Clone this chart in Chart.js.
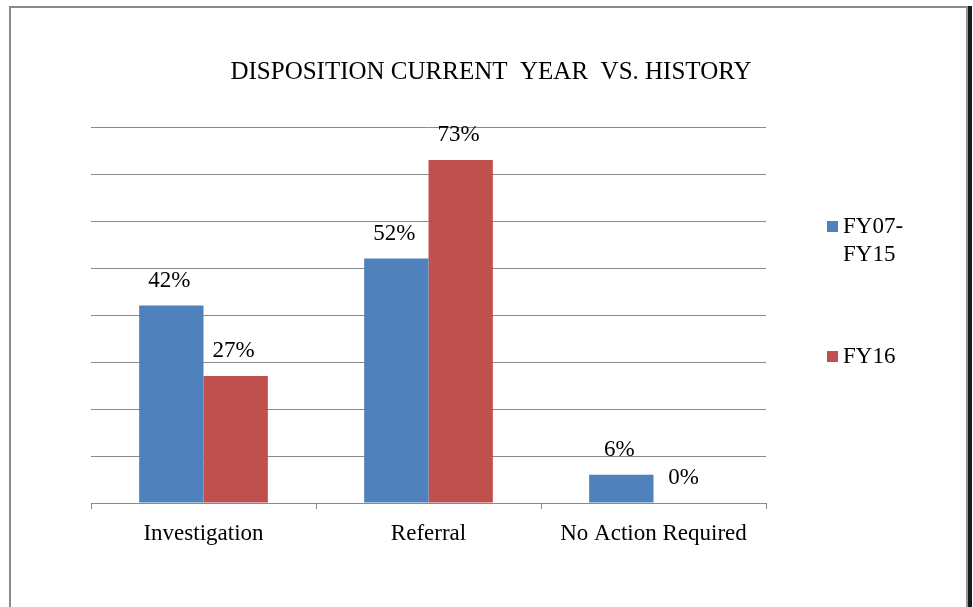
<!DOCTYPE html>
<html>
<head>
<meta charset="utf-8">
<script src="https://cdn.jsdelivr.net/npm/chart.js@4.4.1/dist/chart.umd.min.js"></script>
<style>
  html, body { margin: 0; padding: 0; background: #fff; }
  #wrap { position: relative; width: 973px; height: 607px; overflow: hidden; }
  #frame { position: absolute; left: 9px; top: 6px; width: 955px; height: 640px;
           border-left: 2px solid #8a8a8a; border-top: 2px solid #8a8a8a; border-right: 2px solid #9a9a9a;
           box-shadow: 4px 0 0 #1a1a1a; pointer-events: none; }
  canvas { position: absolute; left: 0; top: 0; }
</style>
</head>
<body>
<div id="wrap">
  <canvas id="c" width="973" height="607"></canvas>
  <div id="frame"></div>
</div>
<script>
const chartTitle = "DISPOSITION CURRENT  YEAR  VS. HISTORY";
const categories = ["Investigation", "Referral", "No Action Required"];
const seriesNames = ["FY07-FY15", "FY16"];
const historyValues = [42, 52, 6];
const fy16Values = [27, 73, 0];
const seriesColors = ["#4F81BD", "#C0504D"];
const yMax = 80;
const yStep = 10;

const FONT = "'Liberation Serif', 'Times New Roman', serif";

const titlePlugin = {
  id: 'customTitle',
  afterDraw(chart) {
    const ctx = chart.ctx;
    ctx.save();
    ctx.font = "25px " + FONT;
    ctx.fillStyle = "#000";
    ctx.textAlign = "center";
    ctx.textBaseline = "alphabetic";
    ctx.fillText(chartTitle, 491, 79);
    ctx.restore();
  }
};

const labelPlugin = {
  id: 'valueLabels',
  afterDatasetsDraw(chart) {
    const ctx = chart.ctx;
    ctx.save();
    ctx.font = "23px " + FONT;
    ctx.fillStyle = "#000";
    ctx.textAlign = "center";
    ctx.textBaseline = "alphabetic";
    chart.data.datasets.forEach((ds, di) => {
      const meta = chart.getDatasetMeta(di);
      meta.data.forEach((bar, i) => {
        ctx.fillText(ds.data[i] + "%", bar.x - 2, bar.y - 19);
      });
    });
    ctx.restore();
  }
};

const legendPlugin = {
  id: 'sideLegend',
  afterDraw(chart) {
    const ctx = chart.ctx;
    ctx.save();
    ctx.font = "23px " + FONT;
    ctx.textAlign = "left";
    ctx.textBaseline = "alphabetic";
    const baselines = [233, 363];
    chart.data.datasets.forEach((ds, di) => {
      const base = baselines[di];
      ctx.fillStyle = ds.backgroundColor;
      ctx.fillRect(827, base - 12, 11, 11);
      ctx.fillStyle = "#000";
      const lines = ds.label.replace("-", "-\n").split("\n");
      lines.forEach((ln, li) => ctx.fillText(ln, 843, base + li * 28));
    });
    ctx.restore();
  }
};

new Chart(document.getElementById('c'), {
  type: 'bar',
  data: {
    labels: categories,
    datasets: [
      { label: seriesNames[0], data: historyValues, backgroundColor: seriesColors[0], categoryPercentage: 0.572, barPercentage: 1.0 },
      { label: seriesNames[1], data: fy16Values, backgroundColor: seriesColors[1], categoryPercentage: 0.572, barPercentage: 1.0 }
    ]
  },
  options: {
    responsive: false,
    animation: false,
    devicePixelRatio: 1,
    layout: { padding: { left: 91, right: 207, top: 127, bottom: 0 } },
    plugins: { legend: { display: false }, title: { display: false }, tooltip: { enabled: false } },
    scales: {
      x: {
        grid: { display: true, drawOnChartArea: false, drawTicks: true, tickLength: 6, offset: true, color: '#8a8a8a' },
        border: { display: true, color: '#8a8a8a', width: 1 },
        ticks: { font: { family: FONT, size: 23 }, color: '#000', padding: 11, maxRotation: 0 },
        afterFit(s) { s.height = 104; }
      },
      y: {
        min: 0, max: yMax,
        ticks: { display: false, stepSize: yStep },
        grid: { color: '#8a8a8a', drawTicks: false },
        border: { display: false },
        afterFit(s) { s.width = 0; }
      }
    }
  },
  plugins: [titlePlugin, labelPlugin, legendPlugin]
});
</script>
</body>
</html>
